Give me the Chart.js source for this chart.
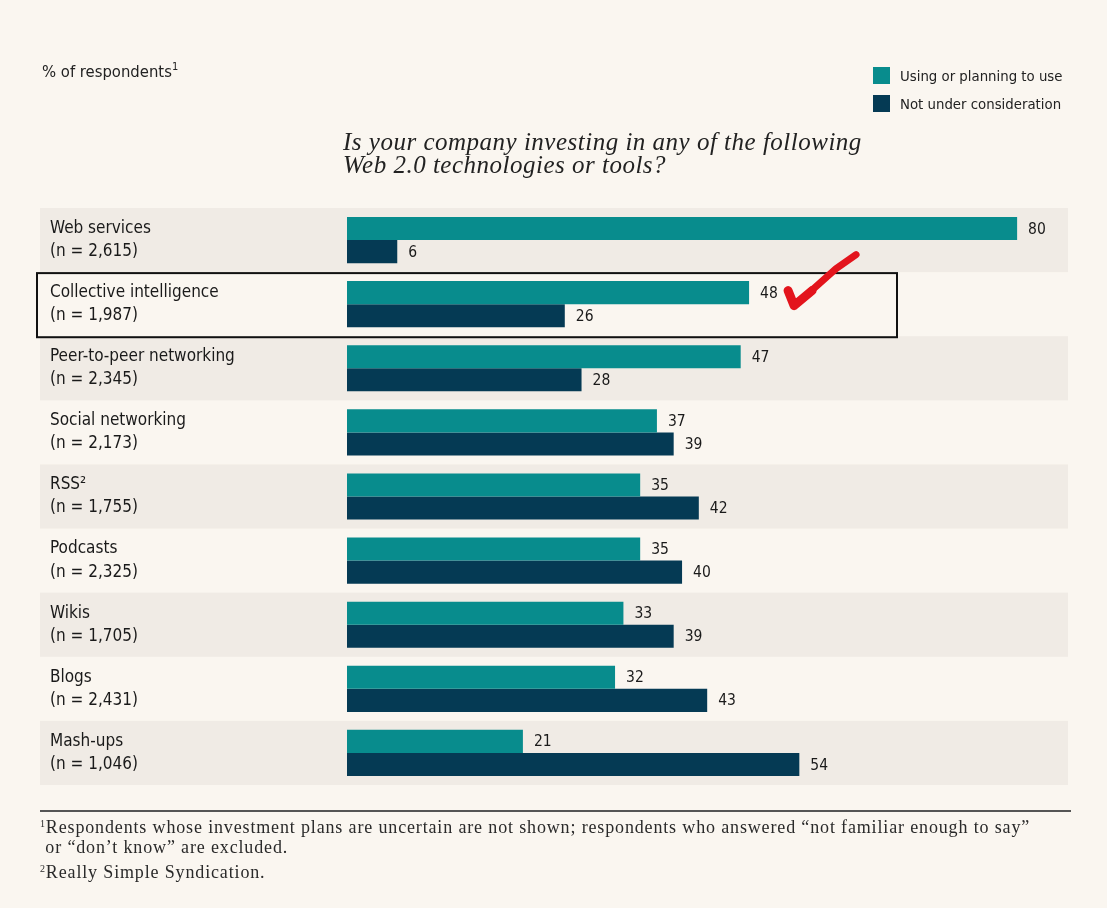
<!DOCTYPE html>
<html><head><meta charset="utf-8">
<script src="https://cdn.jsdelivr.net/npm/chart.js@4/dist/chart.umd.min.js"></script>
<style>
html,body{margin:0;padding:0;background:#faf6f0;}
#wrap{position:relative;width:1107px;height:908px;overflow:hidden;background:#faf6f0;}
canvas{position:absolute;left:0;top:0;}
.t{position:absolute;white-space:nowrap;color:#222;}
.sans{font-family:'Liberation Sans Narrow','DejaVu Sans Condensed','Arial Narrow',sans-serif;}
.serif{font-family:'Liberation Serif','DejaVu Serif',serif;}
#legend div{position:absolute;left:0;height:20px;line-height:20px;font-size:14.8px;}
#legend span{display:inline-block;width:17px;height:17px;vertical-align:middle;margin-right:10px;margin-top:-3px;}
</style></head><body>
<div id="wrap">
<canvas id="c" width="1107" height="908"></canvas>
<div class="t sans" style="left:42px;top:62px;font-size:16.5px;">% of respondents<sup style="font-size:11px;vertical-align:7px;line-height:0">1</sup></div>
<div id="legend" class="t sans" style="left:873px;top:66px;width:234px;height:50px;"></div>
<div class="t serif" id="q" style="left:343px;top:130px;font-size:25px;letter-spacing:0.5px;font-style:italic;line-height:23px;color:#222;">Is your company investing in any of the following<br>Web 2.0 technologies or tools?</div>
<div style="position:absolute;left:40px;top:810px;width:1031px;height:2px;background:#555;"></div>
<div class="t serif" style="left:40px;top:817px;font-size:18px;letter-spacing:0.85px;line-height:20px;color:#2a2a2a;">
<sup style="font-size:10px;vertical-align:6px;line-height:0">1</sup>Respondents whose investment plans are uncertain are not shown; respondents who answered “not familiar enough to say”<br>&nbsp;or “don’t know” are excluded.<br>
<span style="display:inline-block;margin-top:5px"><sup style="font-size:10px;vertical-align:6px;line-height:0">2</sup>Really Simple Syndication.</span></div>
</div>
<script>
const categories = ["Web services","Collective intelligence","Peer-to-peer networking","Social networking","RSS²","Podcasts","Wikis","Blogs","Mash-ups"];
const sampleSizes = ["2,615","1,987","2,345","2,173","1,755","2,325","1,705","2,431","1,046"];
const usingValues = [80, 48, 47, 37, 35, 35, 33, 32, 21];
const notConsideredValues = [6, 26, 28, 39, 42, 40, 39, 43, 54];
const seriesNames = ["Using or planning to use", "Not under consideration"];
const highlightIndex = 1;

const SANS = "'Liberation Sans Narrow','DejaVu Sans Condensed','Arial Narrow',sans-serif";
const TEAL = "#088c8d";
const NAVY = "#053a54";
const BAND = "#f0ebe5";

const labels = categories.map((c, i) => [c, "(n = " + sampleSizes[i] + ")"]);

const bandsPlugin = {
  id: 'bands',
  beforeDraw(chart) {
    const ctx = chart.ctx, y = chart.scales.y;
    const step = y.getPixelForValue(1) - y.getPixelForValue(0);
    ctx.save();
    ctx.fillStyle = BAND;
    for (let i = 0; i < categories.length; i += 2) {
      const cy = y.getPixelForValue(i);
      ctx.fillRect(40, cy - step / 2, 1028, step);
    }
    ctx.restore();
  },
  afterDraw(chart) {
    const ctx = chart.ctx, y = chart.scales.y;
    const step = y.getPixelForValue(1) - y.getPixelForValue(0);
    const cy = y.getPixelForValue(highlightIndex);
    ctx.save();
    ctx.strokeStyle = "#111";
    ctx.lineWidth = 2;
    ctx.strokeRect(37, cy - step / 2 + 1, 860, step);
    // red check mark next to highlighted bar
    const bar = chart.getDatasetMeta(0).data[highlightIndex];
    const bx = bar.x + 39, by = bar.y;
    ctx.strokeStyle = "#e3141c";
    ctx.lineCap = "round";
    ctx.lineJoin = "round";
    ctx.lineWidth = 9;
    ctx.beginPath();
    ctx.moveTo(bx, by - 2);
    ctx.lineTo(bx + 6, by + 13);
    ctx.lineTo(bx + 24, by - 2);
    ctx.stroke();
    ctx.lineWidth = 7;
    ctx.beginPath();
    ctx.moveTo(bx + 20, by + 1);
    ctx.lineTo(bx + 48, by - 24);
    ctx.lineTo(bx + 68, by - 38);
    ctx.stroke();
    ctx.restore();
  },
  afterDatasetsDraw(chart) {
    const ctx = chart.ctx;
    ctx.save();
    ctx.font = "15.5px " + SANS;
    ctx.fillStyle = "#1a1a1a";
    ctx.textBaseline = "middle";
    ctx.textAlign = "left";
    chart.data.datasets.forEach((ds, di) => {
      chart.getDatasetMeta(di).data.forEach((el, i) => {
        ctx.fillText(String(ds.data[i]), el.x + 11, el.y + 1);
      });
    });
    ctx.restore();
  }
};

const chart = new Chart(document.getElementById('c'), {
  type: 'bar',
  data: {
    labels: labels,
    datasets: [
      { label: seriesNames[0], data: usingValues, backgroundColor: TEAL, borderWidth: 0 },
      { label: seriesNames[1], data: notConsideredValues, backgroundColor: NAVY, borderWidth: 0 }
    ]
  },
  options: {
    indexAxis: 'y',
    responsive: false,
    animation: false,
    layout: { padding: { left: 50, right: 48, top: 208, bottom: 123 } },
    datasets: { bar: { categoryPercentage: 0.72, barPercentage: 1.0 } },
    plugins: { legend: { display: false }, title: { display: false }, tooltip: { enabled: false } },
    scales: {
      x: { display: false, min: 0, max: 85 },
      y: {
        grid: { display: false },
        border: { display: false },
        afterFit(scale) { scale.width = 297; },
        ticks: {
          autoSkip: false,
          crossAlign: 'far',
          color: "#1a1a1a",
          font: { family: SANS, size: 17, lineHeight: 1.36 }
        }
      }
    }
  },
  plugins: [bandsPlugin]
});

// HTML legend generated from the chart's datasets
const leg = document.getElementById('legend');
chart.data.datasets.forEach((ds, i) => {
  const d = document.createElement('div');
  d.style.top = (i * 28) + 'px';
  d.innerHTML = '<span style="background:' + ds.backgroundColor + '"></span>' + ds.label;
  leg.appendChild(d);
});
</script>
</body></html>
